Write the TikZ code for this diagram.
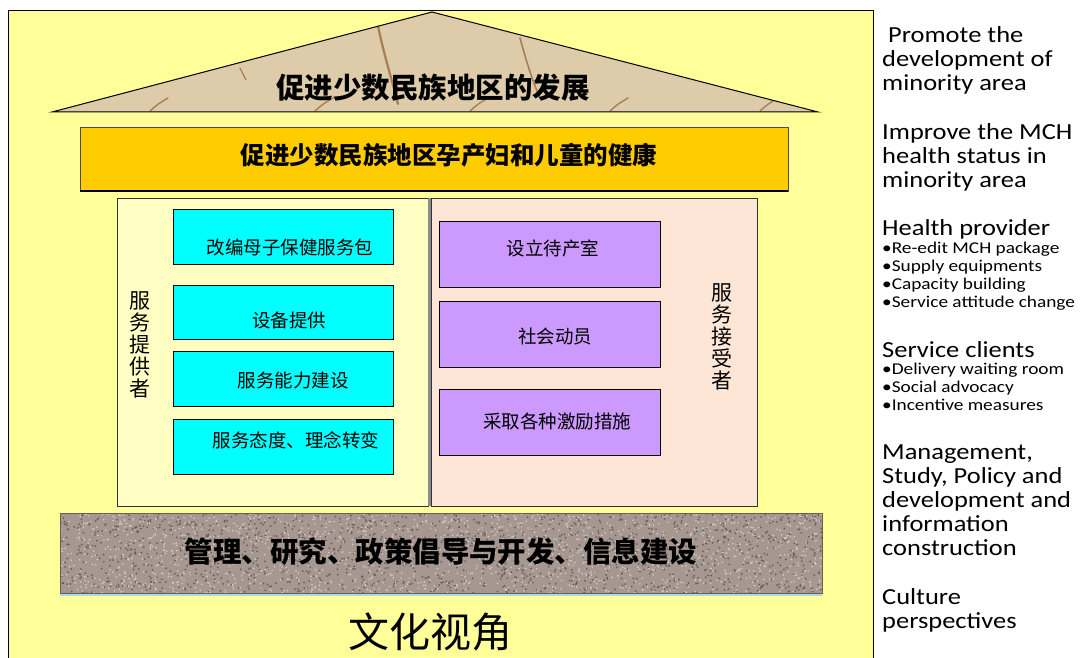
\documentclass[tikz,border=0pt]{standalone}
\usepackage{fontspec}
\newfontfamily\cjk{Noto Sans CJK SC}
\newfontfamily\latf[FakeStretch=1.15]{Carlito}
\newfontfamily\latg[FakeStretch=1.17]{Carlito}
\definecolor{bgyel}{HTML}{FFFF99}
\definecolor{roofc}{HTML}{DDCBAA}
\definecolor{streak}{HTML}{A77E55}
\definecolor{orangec}{HTML}{FFCC00}
\definecolor{leftp}{HTML}{FFFFC4}
\definecolor{rightp}{HTML}{FDE6D6}
\definecolor{cyanc}{HTML}{00FFFF}
\definecolor{purplec}{HTML}{CC99FF}
\definecolor{stone}{HTML}{A69891}
\definecolor{stoned}{HTML}{6A5D57}
\definecolor{stonel}{HTML}{D6CCC6}
\definecolor{rimc}{HTML}{A8DCE4}
\tikzset{
  cyanbox/.style={draw=black, fill=cyanc, line width=0.8pt, minimum width=220pt, minimum height=55pt, inner sep=0pt},
  purplebox/.style={draw=black, fill=purplec, line width=0.8pt, minimum width=221pt, minimum height=66pt, inner sep=0pt},
  boxtext/.style={font=\cjk\fontsize{18.5}{20}\selectfont, inner sep=0pt},
  vtext/.style={font=\cjk\fontsize{21}{22}\selectfont, align=center, inner sep=0pt},
  entxt/.style={font=\latf\fontsize{23}{24}\selectfont, anchor=base west, inner sep=0pt},
  ensmall/.style={font=\latg\fontsize{16.5}{18}\selectfont, anchor=base west, inner sep=0pt},
}
\begin{document}
\begin{tikzpicture}[x=1pt,y=-1pt]
\useasboundingbox (0,0) rectangle (1080,658);
\fill[white] (0,0) rectangle (1080,658);
% frame
\draw[fill=bgyel, line width=0.8pt] (8,10) rectangle (873,662);
% roof
\coordinate (apex) at (432,12);
\coordinate (rl) at (52,112);
\coordinate (rr) at (818,112);
\fill[roofc] (apex) -- (rl) -- (rr) -- cycle;
\begin{scope}
\clip (apex) -- (rl) -- (rr) -- cycle;
\draw[streak, line width=2.2pt, line cap=round] (378,26) .. controls (384,55) and (392,80) .. (398,104);
\draw[streak, line width=1.6pt, line cap=round] (520,38) .. controls (526,60) and (532,80) .. (540,98);
\draw[streak, line width=1.2pt, line cap=round] (240,68) .. controls (243,74) .. (246,80);
\foreach \xx in {150,315,470,610,760}{
  \draw[streak, line width=1.4pt, line cap=round] (\xx,111) .. controls (\xx+8,104) .. (\xx+18,98);
}
\end{scope}
\draw[line width=1pt] (apex) -- (rl) -- (rr) -- cycle;
\node[font=\cjk\bfseries\fontsize{28.5}{30}\selectfont, inner sep=0pt] (rooftxt) at (433,88) {促进少数民族地区的发展};
% orange bar
\draw[fill=orangec, draw=black!70, line width=0.6pt] (80,127) rectangle (788,191);
\draw[line width=2pt] (80,191) -- (788,191);
\node[font=\cjk\bfseries\fontsize{24.5}{26}\selectfont, inner sep=0pt] (goal) at (449,155) {促进少数民族地区孕产妇和儿童的健康};
% panels
\draw[fill=leftp, draw=black!80, line width=0.8pt] (117,198) rectangle (428,506);
\draw[fill=rightp, draw=black!80, line width=0.8pt] (431,198) rectangle (757,506);
\fill[black!45] (428.4,198) rectangle (430.6,506);
% provider boxes
\node[cyanbox] (c1) at (283,236.5) {};
\node[cyanbox, minimum height=54pt] (c2) at (283,312) {};
\node[cyanbox] (c3) at (283,378.5) {};
\node[cyanbox] (c4) at (283,446.5) {};
\node[boxtext] (t1) at (290,247) {改编母子保健服务包};
\node[boxtext] (t2) at (289,320) {设备提供};
\node[boxtext] (t3) at (293,380) {服务能力建设};
\node[boxtext] (t4) at (296,440) {服务态度、理念转变};
% client boxes
\node[purplebox] (p1) at (549.5,254) {};
\node[purplebox] (p2) at (549.5,334) {};
\node[purplebox] (p3) at (549.5,422) {};
\node[boxtext] (s1) at (553,248) {设立待产室};
\node[boxtext] (s2) at (555,336) {社会动员};
\node[boxtext] (s3) at (557,421) {采取各种激励措施};
% vertical labels
\node[vtext] (vl) at (140,345) {服\\务\\提\\供\\者};
\node[vtext] (vr) at (722,337) {服\\务\\接\\受\\者};
% foundation
\fill[stone] (60,513) rectangle (822,593);
\begin{scope}
\clip (60,513) rectangle (822,593);
\pgfmathsetseed{17}
\foreach \i in {1,...,1600}{
  \fill[stoned] (60+762*rnd,513+80*rnd) circle (1.0pt);
}
\foreach \i in {1,...,1600}{
  \fill[stonel] (60+762*rnd,513+80*rnd) circle (0.9pt);
}
\end{scope}
\draw[draw=stoned, line width=0.8pt] (60,513) rectangle (822,593);
\draw[rimc, line width=2pt] (60,594.5) -- (822,594.5);
\node[font=\cjk\bfseries\fontsize{28.5}{30}\selectfont, inner sep=0pt] (base) at (441,552) {管理、研究、政策倡导与开发、信息建设};
% culture
\node[font=\cjk\fontsize{41}{43}\selectfont, inner sep=0pt] (culture) at (430,632) {文化视角};
% English column
\node[entxt] (e1) at (882,43) {\ Promote the};
\node[entxt] (e2) at (882,67) {development of};
\node[entxt] (e3) at (882,91) {minority area};
\node[entxt] (e4) at (882,140) {Improve the MCH};
\node[entxt] (e5) at (882,164) {health status in};
\node[entxt] (e6) at (882,188) {minority area};
\node[entxt] (e7) at (882,236) {Health provider};
\node[ensmall] (b1) at (882,253) {•Re-edit MCH package};
\node[ensmall] (b2) at (882,271) {•Supply equipments};
\node[ensmall] (b3) at (882,289) {•Capacity building};
\node[ensmall] (b4) at (882,307) {•Service attitude change};
\node[entxt] (e8) at (882,357) {Service clients};
\node[ensmall] (b5) at (882,374) {•Delivery waiting room};
\node[ensmall] (b6) at (882,392) {•Social advocacy};
\node[ensmall] (b7) at (882,410) {•Incentive measures};
\node[entxt] (e9) at (882,459) {Management,};
\node[entxt] (e10) at (882,483) {Study, Policy and};
\node[entxt] (e11) at (882,507) {development and};
\node[entxt] (e12) at (882,531) {information};
\node[entxt] (e13) at (882,555) {construction};
\node[entxt] (e14) at (882,604) {Culture};
\node[entxt] (e15) at (882,628) {perspectives};
\end{tikzpicture}
\end{document}
